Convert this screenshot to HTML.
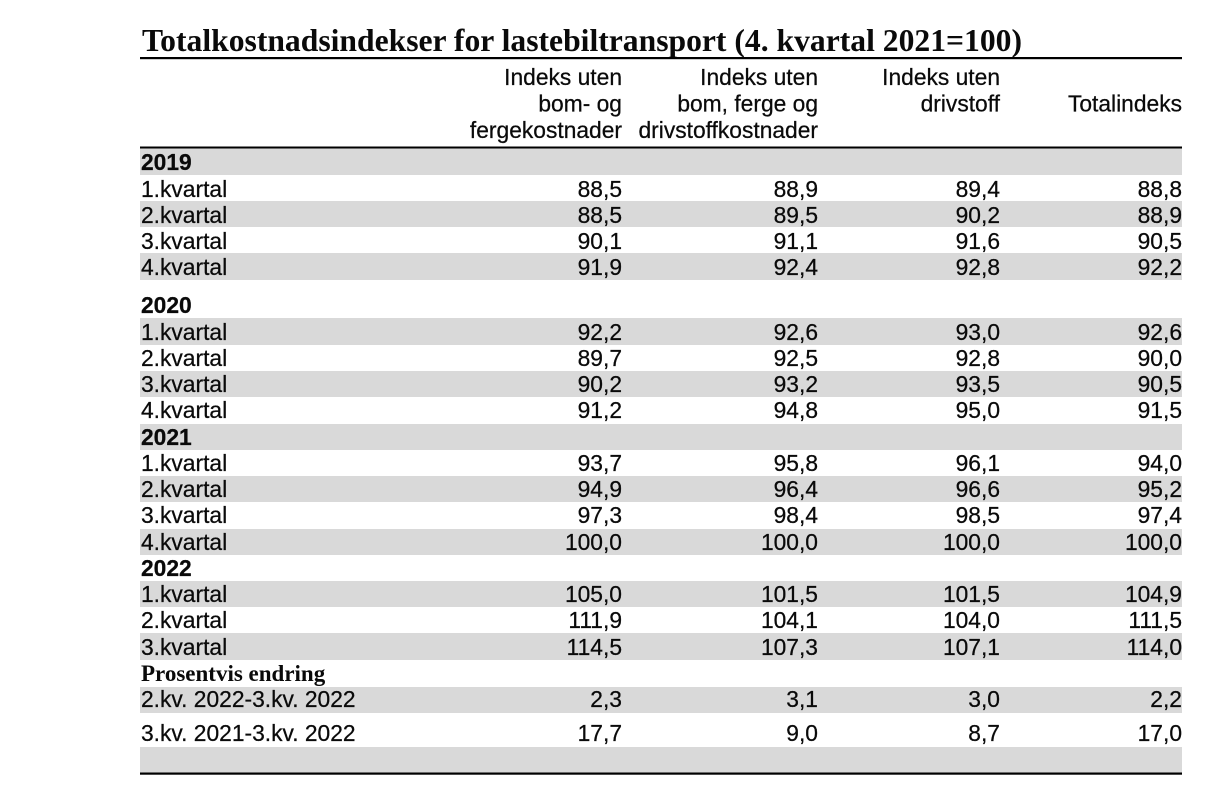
<!DOCTYPE html>
<html>
<head>
<meta charset="utf-8">
<style>
  html, body { margin: 0; padding: 0; background: #ffffff; }
  body { width: 1209px; height: 795px; overflow: hidden; }
  svg { display: block; }
  .s { font-family: "Liberation Sans", Arial, sans-serif; font-size: 22.8px; fill: #0a0a0a; stroke: #0a0a0a; stroke-width: 0.25px; }
  .b { font-weight: bold; }
  .r { text-anchor: end; }
  .t { font-family: "Liberation Serif", "Times New Roman", serif; font-weight: bold; fill: #0a0a0a; }
</style>
</head>
<body>
<svg width="1209" height="795" viewBox="0 0 1209 795" xmlns="http://www.w3.org/2000/svg">
  <rect x="0" y="0" width="1209" height="795" fill="#ffffff"/>

  <!-- Title -->
  <text class="t" x="142" y="51" font-size="31.5" textLength="880" lengthAdjust="spacingAndGlyphs">Totalkostnadsindekser for lastebiltransport (4. kvartal 2021=100)</text>
  <rect x="140" y="57" width="1042" height="2.2" fill="#000"/>

  <!-- Header -->
  <text class="s r" x="622" y="85">Indeks uten</text>
  <text class="s r" x="622" y="111.5">bom- og</text>
  <text class="s r" x="622" y="138">fergekostnader</text>
  <text class="s r" x="818" y="85">Indeks uten</text>
  <text class="s r" x="818" y="111.5">bom, ferge og</text>
  <text class="s r" x="818" y="138">drivstoffkostnader</text>
  <text class="s r" x="1000" y="85">Indeks uten</text>
  <text class="s r" x="1000" y="111.5">drivstoff</text>
  <text class="s r" x="1182" y="111.5">Totalindeks</text>

  <!-- Gray bands -->
  <g fill="#d9d9d9">
    <rect x="140" y="148" width="1042" height="27"/>
    <rect x="140" y="201" width="1042" height="26"/>
    <rect x="140" y="253" width="1042" height="27"/>
    <rect x="140" y="318" width="1042" height="27"/>
    <rect x="140" y="371" width="1042" height="26"/>
    <rect x="140" y="424" width="1042" height="26"/>
    <rect x="140" y="476" width="1042" height="26"/>
    <rect x="140" y="529" width="1042" height="26"/>
    <rect x="140" y="581" width="1042" height="26"/>
    <rect x="140" y="633" width="1042" height="27"/>
    <rect x="140" y="687" width="1042" height="26"/>
    <rect x="140" y="747" width="1042" height="26"/>
  </g>

  <!-- Rules -->
  <rect x="140" y="146.5" width="1042" height="2" fill="#000"/>
  <rect x="140" y="772.5" width="1042" height="2.2" fill="#000"/>

  <!-- 2019 -->
  <text class="s b" x="141" y="170">2019</text>

  <text class="s" x="141" y="197">1.kvartal</text>
  <text class="s r" x="622" y="197">88,5</text>
  <text class="s r" x="818" y="197">88,9</text>
  <text class="s r" x="1000" y="197">89,4</text>
  <text class="s r" x="1182" y="197">88,8</text>

  <text class="s" x="141" y="223">2.kvartal</text>
  <text class="s r" x="622" y="223">88,5</text>
  <text class="s r" x="818" y="223">89,5</text>
  <text class="s r" x="1000" y="223">90,2</text>
  <text class="s r" x="1182" y="223">88,9</text>

  <text class="s" x="141" y="249">3.kvartal</text>
  <text class="s r" x="622" y="249">90,1</text>
  <text class="s r" x="818" y="249">91,1</text>
  <text class="s r" x="1000" y="249">91,6</text>
  <text class="s r" x="1182" y="249">90,5</text>

  <text class="s" x="141" y="275">4.kvartal</text>
  <text class="s r" x="622" y="275">91,9</text>
  <text class="s r" x="818" y="275">92,4</text>
  <text class="s r" x="1000" y="275">92,8</text>
  <text class="s r" x="1182" y="275">92,2</text>

  <!-- 2020 -->
  <text class="s b" x="141" y="313">2020</text>

  <text class="s" x="141" y="340">1.kvartal</text>
  <text class="s r" x="622" y="340">92,2</text>
  <text class="s r" x="818" y="340">92,6</text>
  <text class="s r" x="1000" y="340">93,0</text>
  <text class="s r" x="1182" y="340">92,6</text>

  <text class="s" x="141" y="366">2.kvartal</text>
  <text class="s r" x="622" y="366">89,7</text>
  <text class="s r" x="818" y="366">92,5</text>
  <text class="s r" x="1000" y="366">92,8</text>
  <text class="s r" x="1182" y="366">90,0</text>

  <text class="s" x="141" y="392">3.kvartal</text>
  <text class="s r" x="622" y="392">90,2</text>
  <text class="s r" x="818" y="392">93,2</text>
  <text class="s r" x="1000" y="392">93,5</text>
  <text class="s r" x="1182" y="392">90,5</text>

  <text class="s" x="141" y="418">4.kvartal</text>
  <text class="s r" x="622" y="418">91,2</text>
  <text class="s r" x="818" y="418">94,8</text>
  <text class="s r" x="1000" y="418">95,0</text>
  <text class="s r" x="1182" y="418">91,5</text>

  <!-- 2021 -->
  <text class="s b" x="141" y="445">2021</text>

  <text class="s" x="141" y="471">1.kvartal</text>
  <text class="s r" x="622" y="471">93,7</text>
  <text class="s r" x="818" y="471">95,8</text>
  <text class="s r" x="1000" y="471">96,1</text>
  <text class="s r" x="1182" y="471">94,0</text>

  <text class="s" x="141" y="497">2.kvartal</text>
  <text class="s r" x="622" y="497">94,9</text>
  <text class="s r" x="818" y="497">96,4</text>
  <text class="s r" x="1000" y="497">96,6</text>
  <text class="s r" x="1182" y="497">95,2</text>

  <text class="s" x="141" y="523">3.kvartal</text>
  <text class="s r" x="622" y="523">97,3</text>
  <text class="s r" x="818" y="523">98,4</text>
  <text class="s r" x="1000" y="523">98,5</text>
  <text class="s r" x="1182" y="523">97,4</text>

  <text class="s" x="141" y="550">4.kvartal</text>
  <text class="s r" x="622" y="550">100,0</text>
  <text class="s r" x="818" y="550">100,0</text>
  <text class="s r" x="1000" y="550">100,0</text>
  <text class="s r" x="1182" y="550">100,0</text>

  <!-- 2022 -->
  <text class="s b" x="141" y="576">2022</text>

  <text class="s" x="141" y="602">1.kvartal</text>
  <text class="s r" x="622" y="602">105,0</text>
  <text class="s r" x="818" y="602">101,5</text>
  <text class="s r" x="1000" y="602">101,5</text>
  <text class="s r" x="1182" y="602">104,9</text>

  <text class="s" x="141" y="628">2.kvartal</text>
  <text class="s r" x="622" y="628">111,9</text>
  <text class="s r" x="818" y="628">104,1</text>
  <text class="s r" x="1000" y="628">104,0</text>
  <text class="s r" x="1182" y="628">111,5</text>

  <text class="s" x="141" y="655">3.kvartal</text>
  <text class="s r" x="622" y="655">114,5</text>
  <text class="s r" x="818" y="655">107,3</text>
  <text class="s r" x="1000" y="655">107,1</text>
  <text class="s r" x="1182" y="655">114,0</text>

  <!-- Prosentvis endring -->
  <text class="t" x="141" y="681" font-size="23">Prosentvis endring</text>

  <text class="s" x="141" y="707">2.kv. 2022-3.kv. 2022</text>
  <text class="s r" x="622" y="707">2,3</text>
  <text class="s r" x="818" y="707">3,1</text>
  <text class="s r" x="1000" y="707">3,0</text>
  <text class="s r" x="1182" y="707">2,2</text>

  <text class="s" x="141" y="741">3.kv. 2021-3.kv. 2022</text>
  <text class="s r" x="622" y="741">17,7</text>
  <text class="s r" x="818" y="741">9,0</text>
  <text class="s r" x="1000" y="741">8,7</text>
  <text class="s r" x="1182" y="741">17,0</text>
</svg>
</body>
</html>
